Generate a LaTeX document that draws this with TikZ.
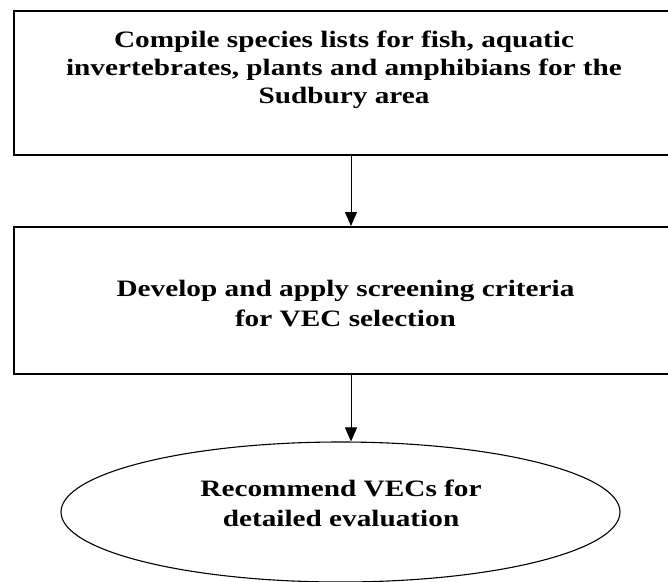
\documentclass[tikz,border=0pt]{standalone}
\usepackage{fontspec}
\setmainfont{Liberation Serif}[FakeStretch=1.245]
\usetikzlibrary{arrows.meta,shapes.geometric}

\begin{document}
\begin{tikzpicture}[x=1pt,y=-1pt,line width=1pt,>={Triangle[length=14pt,width=12pt]}]
\tikzset{stepbox/.style={draw,line width=1.5pt,rectangle,anchor=north west,minimum width=690pt,inner sep=0pt},
  steptext/.style={align=center,font=\bfseries\fontsize{23.5}{29.5}\selectfont},
  flow/.style={->,line width=1pt}}
\useasboundingbox (0,0) rectangle (668,581);
\clip (0,0) rectangle (668,581);
% ---------- boxes ----------
\node[stepbox,minimum height=144pt] (box1) at (13,10) {};
\node[steptext,font=\bfseries\fontsize{23.5}{28}\selectfont] (txt1) at (344,70.2) {Compile species lists for fish, aquatic\\invertebrates, plants and amphibians for the\\Sudbury area};
\node[stepbox,minimum height=147pt] (box2) at (13,226) {};
\node[steptext] (txt2) at (345.5,303.3) {Develop and apply screening criteria\\for VEC selection};
% ---------- end: ellipse ----------
\node[draw,ellipse,line width=1.1pt,minimum width=559pt,minimum height=140pt] (recom) at (340.5,512) {};
\node[steptext] (txt3) at (341,503.2) {Recommend VECs for\\detailed evaluation};
% ---------- arrows ----------
\coordinate (ax) at (351,0);
\draw[flow] (ax |- box1.south) -- (ax |- box2.north);
\draw[flow] (ax |- box2.south) -- (ax |- recom.north);
\end{tikzpicture}
\end{document}
